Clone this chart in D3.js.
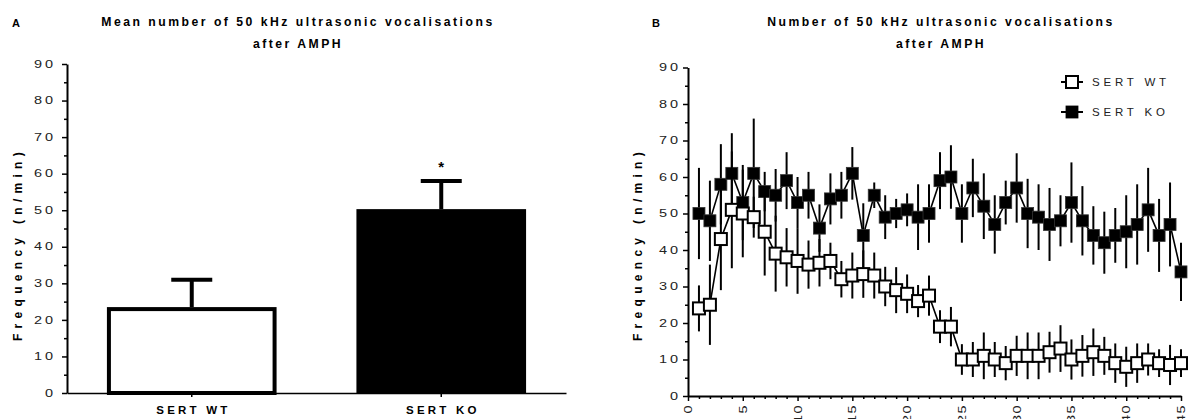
<!DOCTYPE html>
<html>
<head>
<meta charset="utf-8">
<script src="https://cdn.jsdelivr.net/npm/d3@7"></script>
<style>
  body { margin: 0; background: #fff; }
  svg { font-family: Arial, "Liberation Sans", sans-serif; }
</style>
</head>
<body>
<div id="chart"></div>
<script>
// panel A: mean over the session
const groups = ["SERT WT", "SERT KO"];
const meanFreq = [23.5, 50.3];
const meanSem = [7.5, 7.7];

// panel B: per minute time course
const minutes = [1, 2, 3, 4, 5, 6, 7, 8, 9, 10, 11, 12, 13, 14, 15, 16, 17, 18, 19, 20, 21, 22, 23,
  24, 25, 26, 27, 28, 29, 30, 31, 32, 33, 34, 35, 36, 37, 38, 39, 40, 41, 42, 43, 44, 45];
const wtFreq = [24, 25, 43, 51, 50, 49, 45, 39, 38, 37, 36, 36.5, 37, 32, 33, 33.4, 33, 30, 29, 28, 26, 27.5, 19,
  19, 10, 10, 11, 10, 9, 11, 11, 11, 12, 13, 10, 11, 12, 11, 9, 8, 9, 10, 9, 8.5, 9];
const wtSem = [6.3, 11, 14, 16, 12, 5.6, 12, 10.4, 8, 9, 6.6, 6.5, 5, 5, 6.3, 6.5, 6.3, 5.4, 6.3, 5.3, 4.4, 5.5, 4.5,
  5.4, 4.2, 4.8, 6.4, 4.8, 4.7, 5.5, 6.4, 6.4, 5.6, 6.4, 5.5, 5.7, 6.5, 5.2, 5.4, 5.5, 5.4, 4.4, 3.8, 5.5, 3.8];
const koFreq = [50, 48, 58, 61, 53, 61, 56, 55, 59, 53, 55, 46, 54, 55, 61, 44, 55, 49, 50, 51, 49, 50, 59,
  60, 50, 57, 52, 47, 53, 57, 50, 49, 47, 48, 53, 48, 44, 42, 44, 45, 47, 51, 44, 47, 34];
const koSem = [12.5, 11, 11, 11, 10.3, 15, 5.4, 7.2, 7.8, 7, 6.4, 6.5, 7, 6.4, 7.2, 8.8, 3.5, 6, 4, 4.5, 9, 8, 7.8,
  8.7, 8, 8, 9, 8, 6, 9.5, 9.5, 9, 10, 7, 11, 9.5, 8, 8.5, 7.5, 10, 11, 11.5, 10, 11.5, 8];

const yTicks = [0, 10, 20, 30, 40, 50, 60, 70, 80, 90];
const yMinor = [5, 15, 25, 35, 45, 55, 65, 75, 85];
const xTicksB = [0, 5, 10, 15, 20, 25, 30, 35, 40, 45];

const width = 1190, height = 419;
const ink = "#000";
const tickInk = "#222";
const stretch = 1.45; // tick digits in the figure are drawn wide

const svg = d3.select("#chart").append("svg")
  .attr("width", width)
  .attr("height", height);

function title(x, lines) {
  const t = svg.append("text")
    .attr("x", x)
    .attr("y", 26)
    .attr("text-anchor", "middle")
    .attr("font-weight", "bold")
    .attr("font-size", 12.2)
    .attr("letter-spacing", 2.5)
    .attr("fill", ink);
  lines.forEach((s, i) => {
    t.append("tspan").attr("x", x).attr("dy", i === 0 ? 0 : 22).text(s);
  });
}

function yLabel(x, y) {
  svg.append("text")
    .attr("transform", `translate(${x},${y}) rotate(-90)`)
    .attr("text-anchor", "middle")
    .attr("font-weight", "bold")
    .attr("font-size", 12)
    .attr("letter-spacing", 5.3)
    .attr("fill", ink)
    .text("Frequency (n/min)");
}

function styleYAxis(g, gap) {
  g.select(".domain").attr("stroke", ink).attr("stroke-width", 2);
  g.selectAll(".tick line").attr("stroke", ink).attr("stroke-width", 1.5);
  g.selectAll(".tick text")
    .attr("transform", `scale(${stretch},1)`)
    .attr("x", -(gap - 2 * stretch) / stretch)
    .attr("font-size", 10)
    .attr("letter-spacing", 2)
    .attr("fill", tickInk)
    .attr("font-family", "Arial, 'Liberation Sans', sans-serif");
}

// ---------------- panel A ----------------
svg.append("text").attr("x", 12).attr("y", 27)
  .attr("font-weight", "bold").attr("font-size", 11).attr("fill", ink).text("A");
title(298, ["Mean number of 50 kHz ultrasonic vocalisations", "after AMPH"]);

const xA = d3.scaleBand()
  .domain(groups)
  .range([67, 566])
  .paddingInner(0.32)
  .paddingOuter(0.16);
const yA = d3.scaleLinear().domain([0, 90]).range([393, 64]);

const gA = svg.append("g");

// bars
gA.selectAll("rect.bar")
  .data(groups)
  .enter()
  .append("rect")
  .attr("class", "bar")
  .attr("x", (d, i) => xA(d) + (i === 0 ? 2 : 0))
  .attr("y", (d, i) => yA(meanFreq[i]) + (i === 0 ? 2 : 0))
  .attr("width", (d, i) => xA.bandwidth() - (i === 0 ? 4 : 0))
  .attr("height", (d, i) => yA(0) - yA(meanFreq[i]) - (i === 0 ? 2 : 0))
  .attr("fill", (d, i) => i === 0 ? "#fff" : ink)
  .attr("stroke", ink)
  .attr("stroke-width", (d, i) => i === 0 ? 4 : 0);

// error bars (upper only)
const errA = gA.selectAll("g.err")
  .data(groups)
  .enter()
  .append("g")
  .attr("class", "err");
errA.append("line")
  .attr("x1", d => xA(d) + xA.bandwidth() / 2)
  .attr("x2", d => xA(d) + xA.bandwidth() / 2)
  .attr("y1", (d, i) => yA(meanFreq[i]))
  .attr("y2", (d, i) => yA(meanFreq[i] + meanSem[i]))
  .attr("stroke", ink)
  .attr("stroke-width", 4);
errA.append("line")
  .attr("x1", d => xA(d) + xA.bandwidth() / 2 - 20.5)
  .attr("x2", d => xA(d) + xA.bandwidth() / 2 + 20.5)
  .attr("y1", (d, i) => yA(meanFreq[i] + meanSem[i]))
  .attr("y2", (d, i) => yA(meanFreq[i] + meanSem[i]))
  .attr("stroke", ink)
  .attr("stroke-width", 4);

gA.append("text")
  .attr("x", xA("SERT KO") + xA.bandwidth() / 2)
  .attr("y", yA(meanFreq[1] + meanSem[1]) - 9)
  .attr("text-anchor", "middle")
  .attr("font-weight", "bold")
  .attr("font-size", 15)
  .attr("fill", ink)
  .text("*");

// axes
const axA = svg.append("g")
  .attr("transform", "translate(67,0)")
  .call(d3.axisLeft(yA).tickValues(yTicks).tickSize(5).tickSizeOuter(0));
styleYAxis(axA, 14);
svg.append("g")
  .attr("transform", "translate(67,0)")
  .call(d3.axisLeft(yA).tickValues(yMinor).tickSize(3).tickFormat(""))
  .call(g => g.select(".domain").remove())
  .call(g => g.selectAll(".tick line").attr("stroke", ink).attr("stroke-width", 1.5));

const axAx = svg.append("g")
  .attr("transform", "translate(0,393)")
  .call(d3.axisBottom(xA).tickSize(4).tickPadding(9).tickSizeOuter(0));
axAx.select(".domain").attr("stroke", ink).attr("stroke-width", 1.5);
axAx.selectAll(".tick line").attr("stroke", ink).attr("stroke-width", 1.5);
axAx.selectAll(".tick text")
  .attr("font-size", 11.5)
  .attr("font-weight", "bold")
  .attr("letter-spacing", 3.2)
  .attr("dx", 1.6)
  .attr("fill", ink)
  .attr("font-family", "Arial, 'Liberation Sans', sans-serif");

yLabel(22, 244);

// ---------------- panel B ----------------
svg.append("text").attr("x", 652).attr("y", 27)
  .attr("font-weight", "bold").attr("font-size", 11).attr("fill", ink).text("B");
title(941, ["Number of 50 kHz ultrasonic vocalisations", "after AMPH"]);

const xB = d3.scaleLinear().domain([0, 45]).range([688, 1181]);
const yB = d3.scaleLinear().domain([0, 90]).range([396, 67.5]);

const axBy = svg.append("g")
  .attr("transform", "translate(688,0)")
  .call(d3.axisLeft(yB).tickValues(yTicks).tickSize(5).tickSizeOuter(0));
styleYAxis(axBy, 10);
svg.append("g")
  .attr("transform", "translate(688,0)")
  .call(d3.axisLeft(yB).tickValues(yMinor).tickSize(3).tickFormat(""))
  .call(g => g.select(".domain").remove())
  .call(g => g.selectAll(".tick line").attr("stroke", ink).attr("stroke-width", 1.5));

const axBx = svg.append("g")
  .attr("transform", "translate(0,396)")
  .call(d3.axisBottom(xB).tickValues(xTicksB).tickSize(5).tickSizeOuter(0));
axBx.select(".domain").attr("stroke", ink).attr("stroke-width", 2);
axBx.selectAll(".tick line").attr("stroke", ink).attr("stroke-width", 1.5);
axBx.selectAll(".tick text")
  .attr("transform", `rotate(-90) scale(${stretch},1)`)
  .attr("x", -8 / stretch)
  .attr("y", 0)
  .attr("dy", "0.35em")
  .style("text-anchor", "end")
  .attr("font-size", 10)
  .attr("letter-spacing", 1)
  .attr("fill", tickInk)
  .attr("font-family", "Arial, 'Liberation Sans', sans-serif");
svg.append("g")
  .attr("transform", "translate(0,396)")
  .call(d3.axisBottom(xB).tickValues(minutes.filter(m => m % 5 !== 0)).tickSize(3).tickFormat(""))
  .call(g => g.select(".domain").remove())
  .call(g => g.selectAll(".tick line").attr("stroke", ink).attr("stroke-width", 1.5));

yLabel(642, 244);

const line = d3.line()
  .x((d, i) => xB(minutes[i]))
  .y(d => yB(d));

const series = [
  { name: "SERT KO", vals: koFreq, sem: koSem, fill: ink },
  { name: "SERT WT", vals: wtFreq, sem: wtSem, fill: "#fff" }
];

const sq = 12;
series.forEach(s => {
  const g = svg.append("g");
  g.selectAll("line.eb")
    .data(s.vals)
    .enter()
    .append("line")
    .attr("class", "eb")
    .attr("x1", (d, i) => xB(minutes[i]))
    .attr("x2", (d, i) => xB(minutes[i]))
    .attr("y1", (d, i) => yB(d - s.sem[i]))
    .attr("y2", (d, i) => yB(d + s.sem[i]))
    .attr("stroke", ink)
    .attr("stroke-width", 2);
  g.append("path")
    .attr("d", line(s.vals))
    .attr("fill", "none")
    .attr("stroke", ink)
    .attr("stroke-width", 1.6);
  g.selectAll("rect.pt")
    .data(s.vals)
    .enter()
    .append("rect")
    .attr("class", "pt")
    .attr("x", (d, i) => xB(minutes[i]) - sq / 2)
    .attr("y", d => yB(d) - sq / 2)
    .attr("width", sq)
    .attr("height", sq)
    .attr("fill", s.fill)
    .attr("stroke", s.fill === ink ? "#333" : ink)
    .attr("stroke-width", s.fill === ink ? 0.8 : 2);
});

// legend
const legend = svg.append("g").attr("transform", "translate(1072,82)");
const legendItems = legend.selectAll("g")
  .data([series[1], series[0]])
  .enter()
  .append("g")
  .attr("transform", (d, i) => `translate(0,${i * 30})`);
legendItems.append("line")
  .attr("x1", -11).attr("x2", 11)
  .attr("stroke", ink).attr("stroke-width", 2);
legendItems.append("rect")
  .attr("x", -6).attr("y", -6).attr("width", 12).attr("height", 12)
  .attr("fill", d => d.fill)
  .attr("stroke", ink)
  .attr("stroke-width", d => d.fill === ink ? 0.8 : 2);
legendItems.append("text")
  .attr("x", 20)
  .attr("dy", "0.36em")
  .attr("font-size", 11.5)
  .attr("letter-spacing", 3.8)
  .attr("fill", tickInk)
  .text(d => d.name);
</script>
</body>
</html>
